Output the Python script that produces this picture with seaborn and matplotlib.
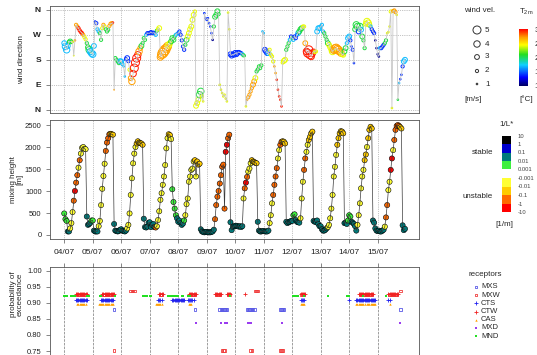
import numpy as np
import pandas as pd
import matplotlib
matplotlib.use("Agg")
import matplotlib.pyplot as plt
import matplotlib.cm as cm
from matplotlib.colors import LinearSegmentedColormap, ListedColormap, BoundaryNorm, Normalize
import seaborn as sns

sns.set_style("ticks")
plt.rcParams['font.family'] = ['Liberation Sans', 'DejaVu Sans']

# ---------------- data ----------------
day_labels = ["04/07", "05/07", "06/07", "07/07", "08/07", "09/07",
              "10/07", "11/07", "12/07", "13/07", "14/07", "15/07"]
first_day = 4  # 04 July, hourly data

# wind direction [deg], one row per day (hours 0-23)
wind_dir = [
    240, 228, 216, 230, 245, 246, 245, 244, 195, 250, 306, 300, 294, 286, 280, 276, 270, 262, 254, 240, 225, 216, 210, 204,
    200, 230, 318, 312, 290, 282, 276, 252, 294, 306, 300, 290, 282, 288, 302, 310, 312, 314, 72, 186, 180, 174, 168, 175,
    174, 165, 156, 120, 182, 186, 175, 144, 114, 102, 130, 150, 170, 186, 198, 210, 222, 230, 240, 258, 252, 270, 276, 276,
    276, 280, 276, 278, 276, 270, 285, 290, 294, 190, 198, 204, 210, 216, 222, 228, 234, 240, 246, 258, 252, 264, 270, 276,
    276, 282, 270, 250, 228, 216, 234, 252, 264, 276, 290, 300, 324, 342, 354, 14, 24, 36, 54, 66, 48, 30, 348, 330,
    324, 330, 312, 300, 276, 252, 300, 335, 342, 355, 345, 90, 72, 60, 48, 54, 40, 30, 350, 290, 200, 195, 200, 198,
    205, 200, 205, 208, 206, 204, 200, 196, 194, 12, 36, 45, 54, 66, 78, 90, 102, 114, 138, 145, 156, 150, 160, 282,
    276, 216, 210, 204, 204, 216, 198, 192, 174, 156, 132, 108, 72, 48, 36, 12, 170, 176, 180, 216, 228, 240, 252, 264,
    258, 252, 264, 258, 270, 276, 282, 290, 294, 300, 300, 240, 210, 204, 216, 198, 192, 204, 210, 208, 210, 282, 294, 294,
    300, 306, 282, 276, 264, 252, 240, 234, 225, 216, 210, 214, 220, 222, 218, 214, 210, 204, 200, 198, 210, 222, 240, 258,
    264, 250, 228, 216, 168, 290, 306, 300, 282, 300, 288, 264, 250, 222, 310, 318, 312, 306, 300, 290, 282, 276, 250, 222,
    200, 192, 222, 222, 228, 234, 240, 250, 276, 280, 300, 354, 6, 356, 358, 352, 342, 36, 96, 110, 126, 156, 174, 180,
]
# wind velocity [m/s]
wind_speed = [
    3, 4, 4, 3, 2, 3, 2, 1, 0.5, 1, 2, 2, 2, 2, 2, 2, 2, 2, 2, 2, 3, 4, 4, 4,
    4, 3, 1, 2, 2, 2, 2, 2, 2, 2, 2, 2, 2, 2, 2, 2, 2, 1, 0.5, 2, 2, 2, 2, 3,
    3, 2, 1, 1, 2, 3, 2, 2, 3, 4, 4, 5, 5, 5, 4, 4, 3, 3, 2, 2, 2, 2, 2, 2,
    2, 2, 2, 2, 2, 2, 2, 2, 3, 4, 5, 6, 6, 6, 5, 5, 4, 3, 3, 3, 3, 2, 2, 1,
    2, 2, 2, 2, 2, 2, 2, 3, 3, 3, 3, 3, 3, 3, 2, 3, 3, 3, 4, 4, 2, 1, 1, 1,
    1, 1, 1, 1, 1, 1, 2, 3, 3, 3, 2, 1, 1, 1, 1, 1, 1, 1, 1, 1, 3, 3, 3, 3,
    3, 3, 3, 2, 2, 2, 2, 2, 1, 1, 1, 2, 2, 2, 2, 3, 3, 3, 2, 2, 2, 2, 2, 1,
    1, 3, 3, 3, 3, 2, 2, 2, 2, 1, 1, 1, 1, 1, 1, 1, 2, 3, 3, 2, 2, 2, 2, 2,
    2, 2, 2, 2, 2, 3, 3, 3, 3, 2, 2, 3, 4, 5, 5, 5, 4, 4, 3, 2, 2, 3, 3, 3,
    2, 2, 2, 2, 2, 2, 3, 3, 3, 3, 4, 4, 5, 5, 5, 5, 4, 4, 3, 3, 3, 3, 2, 3,
    3, 2, 1, 2, 1, 3, 4, 4, 3, 4, 3, 3, 2, 2, 3, 4, 4, 3, 2, 2, 2, 2, 1, 1,
    1, 1, 2, 2, 2, 2, 2, 2, 1, 1, 1, 2, 1, 2, 2, 2, 1, 1, 1, 1, 1, 2, 3, 3,
]
# 2 m temperature [deg C]
temp_2m = [
    17, 17, 17, 17, 20.5, 20.5, 20.5, 24, 24, 27, 27, 27, 29.5, 29.5, 29.5, 29.5, 27, 24, 24, 20.5, 20.5, 20.5, 17, 17,
    17, 17, 14, 14, 17, 17, 20.5, 20.5, 24, 27, 24, 20.5, 20.5, 20.5, 27, 27, 27, 29.5, 27, 20.5, 20.5, 20.5, 20.5, 17,
    17, 17, 17, 17, 14, 14, 14, 24, 27, 27, 29.5, 29.5, 29.5, 29.5, 29.5, 27, 27, 20.5, 20.5, 20.5, 20.5, 17, 14, 14,
    14, 14, 14, 14, 14, 17, 20.5, 24, 24, 27, 27, 27, 27, 27, 27, 27, 24, 24, 20.5, 20.5, 20.5, 20.5, 17, 14,
    17, 14, 14, 14, 14, 14, 20.5, 20.5, 24, 24, 24, 24, 24, 24, 24, 24, 24, 24, 20.5, 20.5, 24, 24, 14, 14,
    14, 14, 14, 14, 14, 11, 20.5, 20.5, 20.5, 20.5, 20.5, 24, 24, 24, 24, 24, 24, 24, 24, 24, 14, 14, 14, 14,
    14, 14, 14, 14, 14, 14, 17, 20.5, 20.5, 24, 27, 27, 27, 27, 27, 27, 27, 24, 20.5, 20.5, 20.5, 20.5, 20.5, 17,
    17, 14, 14, 14, 17, 24, 24, 24, 24, 27, 27, 29.5, 29.5, 29.5, 29.5, 29.5, 24, 24, 24, 20.5, 20.5, 20.5, 17, 14,
    20.5, 17, 14, 14, 14, 17, 20.5, 20.5, 20.5, 24, 24, 27, 29.5, 29.5, 29.5, 29.5, 29.5, 29.5, 29.5, 24, 24, 17, 17, 17,
    17, 17, 17, 20.5, 20.5, 20.5, 20.5, 24, 24, 24, 24, 27, 27, 27, 27, 27, 27, 27, 24, 24, 20.5, 20.5, 17, 17,
    17, 14, 14, 14, 14, 20.5, 20.5, 20.5, 14, 20.5, 17, 20.5, 20.5, 20.5, 24, 24, 24, 24, 17, 14, 14, 14, 11, 11,
    11, 11, 17, 14, 14, 14, 20.5, 20.5, 24, 24, 24, 24, 24, 27, 27, 27, 24, 20.5, 17, 14, 14, 14, 17, 17,
]
# mixing height [m]
mix_height = [
    490, 360, 320, 80, 80, 150, 270, 520, 780, 1000, 1190, 1360, 1530, 1700, 1850, 1980, 2000, 1960, 1950, 420, 230, 250, 280, 330,
    330, 100, 80, 80, 80, 200, 320, 680, 1050, 1340, 1620, 1910, 2100, 2200, 2290, 2300, 2290, 2280, 250, 100, 90, 80, 90, 120,
    130, 100, 90, 80, 100, 150, 230, 490, 910, 1290, 1630, 1850, 2000, 2080, 2130, 2100, 2090, 2080, 2050, 370, 180, 170, 190, 280,
    290, 180, 230, 250, 180, 170, 200, 340, 540, 800, 950, 1140, 1330, 1590, 1970, 2200, 2290, 2270, 2180, 1040, 750, 600, 450, 380,
    300, 330, 270, 230, 260, 330, 450, 700, 830, 1210, 1330, 1480, 1510, 1670, 1700, 1330, 1670, 1600, 1620, 130, 80, 70, 60, 70,
    70, 60, 60, 60, 70, 80, 120, 360, 680, 870, 1000, 1170, 1360, 1550, 1600, 600, 1890, 2050, 2200, 2280, 290, 110, 190, 200,
    200, 210, 200, 190, 200, 180, 200, 830, 1060, 1190, 1320, 1440, 1510, 1630, 1700, 1670, 1660, 1640, 1630, 300, 100, 80, 80, 90,
    90, 80, 80, 80, 100, 270, 450, 720, 910, 1140, 1330, 1520, 1740, 1930, 2050, 2120, 2130, 2120, 2080, 300, 270, 290, 300, 320,
    320, 450, 470, 340, 300, 290, 280, 380, 830, 1210, 1480, 1740, 1890, 2050, 2160, 2230, 2310, 2350, 320, 300, 300, 330, 250, 200,
    200, 130, 100, 100, 120, 150, 180, 230, 380, 600, 910, 1330, 1550, 1820, 2050, 2200, 2310, 2360, 2350, 2310, 270, 280, 250, 330,
    450, 420, 300, 280, 250, 200, 100, 230, 450, 720, 1060, 1330, 1480, 1700, 1830, 2000, 2200, 2390, 2460, 2420, 330, 280, 150, 100,
    90, 100, 80, 80, 100, 120, 190, 400, 680, 1020, 1210, 1480, 1740, 1930, 2160, 2390, 2480, 2500, 2480, 2450, 2420, 220, 110, 140,
]
# stability class of 1/L*: K B T G (stable) / Y D O R (unstable)
stab_class = list(
    "GGGTTYYYOROOYOYYYYYTTTTG"
    + "GTTTTYYYYYYOOOODDDTTTTTT"
    + "TTTTTYYYYYYYYDDDDDDTTTTT"
    + "TTTTTOYYYYYYYYYYDDYGGGGT"
    + "TTTTTGYYYYYYYYDYDDDTTTTT"
    + "TTTTTTTOOOOOOOOORROOTTTT"
    + "TTTTTTTYOROYYYDDDDDTTTTT"
    + "TTTTTYYYOOOOYYOODDDTTTTT"
    + "TGGTTTTYYYOOYYDDDDTTTTTT"
    + "TTTTTTYYYYYYYYDDDDDDTTTG"
    + "GGTTTTTYYYYYYDDYDDDDTTTT"
    + "TTTTTTYOOYYRRYOOOOODDTTT"
)

stab_colors = {"K": "#000000", "B": "#0000cc", "T": "#007b7b", "G": "#3ef03e",
               "Y": "#ffff33", "D": "#ffcc00", "O": "#ff6a00", "R": "#ff0000"}
stab_stable = ["G", "T", "B", "K"]
stab_unstable = ["R", "O", "D", "Y"]
stable_labels = ["0.001", "0.01", "0.1", "1", "10"]
unstable_labels = ["-10", "-1", "-0.1", "-0.01", "-0.001"]

# receptors: probability of exceedance (level, hours since 04/07 00:00)
rec_names = ["MXS", "MXW", "CTS", "CTW", "CAS", "MXD", "MND"]
MXS_levels = [0.909, 0.880]
MXS_hours = [[11, 12, 13, 14, 15, 16, 17, 18, 32, 33, 34, 35, 36, 37, 38, 39, 40,
              92, 93, 94, 95, 96, 97, 98, 99, 100, 247, 248, 249, 250, 251, 252, 253,
              254, 255, 256, 257, 258, 259, 260, 261],
             [42, 110, 131, 132, 133, 134, 135, 136, 137, 154, 155, 156, 157, 158, 159, 160,
              182, 183, 184, 185, 283]]
MXW_levels = [0.926, 0.9375, 0.752]
MXW_hours = [[11, 12, 13, 14, 15, 16, 17, 18, 33, 34, 35, 36, 37, 38, 39, 40, 41, 81, 82,
              106, 107, 108, 109, 110, 128, 129, 130, 131, 138, 139, 200, 201, 202,
              249, 250, 251, 252, 253, 254, 255, 256, 257, 258, 259, 274, 275, 276, 277, 278, 279, 280],
             [56, 57, 58, 59, 161, 162, 163, 283],
             [42, 133, 134, 135, 157, 158, 182, 183, 184]]
CTS_levels = [0.909]
CTS_hours = [[10, 11, 12, 13, 14, 15, 16, 17, 18, 19, 31, 32, 33, 34, 35, 36, 37, 38, 39, 40, 41,
              79, 80, 81, 82, 91, 92, 93, 94, 95, 96, 97, 98, 99, 100, 101,
              104, 105, 106, 107, 108, 109, 199, 200, 201, 202, 240,
              246, 247, 248, 249, 250, 251, 252, 253, 254, 255, 256, 257, 258, 259, 260, 261, 262, 273, 274]]
CTW_levels = [0.927]
CTW_hours = [[10, 11, 12, 13, 14, 15, 16, 17, 18, 19, 32, 33, 34, 35, 36, 37, 38, 39, 40, 41, 42,
              80, 81, 82, 83, 105, 106, 107, 108, 109, 110, 111, 127, 128, 129, 130, 131, 132,
              137, 138, 139, 140, 152, 199, 200, 201, 202, 203,
              248, 249, 250, 251, 252, 253, 254, 255, 256, 257, 258, 259, 260,
              273, 274, 275, 276, 277, 278, 279, 280, 281]]
CAS_levels = [0.896]
CAS_hours = [[11, 12, 13, 14, 15, 16, 17, 18, 29, 30, 31, 32, 33, 34, 35, 36, 37, 38, 39, 40, 41,
              77, 78, 79, 80, 81, 82, 105, 106, 107, 199, 200, 201, 202,
              246, 247, 248, 249, 250, 251, 252, 253, 255, 256, 257, 258, 259, 260, 261, 262, 274]]
MXD_levels = [0.838]
MXD_hours = [[111, 132, 135, 136, 137, 155, 156, 157, 183, 283]]
MND_levels = [0.923]
MND_hours = [[0, 1, 2, 6, 7, 8, 9, 19, 20, 21, 30, 31, 43, 66, 67, 68, 69, 70, 72, 73,
              87, 88, 89, 90, 91, 92, 93, 94, 95, 96, 99, 100, 104, 105, 106, 140,
              193, 194, 195, 196, 197, 202, 222, 238, 239, 240, 252, 271]]

rec_data = {"MXS": (MXS_levels, MXS_hours), "MXW": (MXW_levels, MXW_hours),
            "CTS": (CTS_levels, CTS_hours), "CTW": (CTW_levels, CTW_hours),
            "CAS": (CAS_levels, CAS_hours), "MXD": (MXD_levels, MXD_hours),
            "MND": (MND_levels, MND_hours)}
rec_style = {
    "MXS": dict(marker="s", color="#5a5ae6", filled=False, s=3.5),
    "MXW": dict(marker="s", color="#f03c3c", filled=False, s=3.5),
    "CTS": dict(marker="+", color="#2020f0", filled=None, s=5),
    "CTW": dict(marker="+", color="#f02020", filled=None, s=5),
    "CAS": dict(marker="^", color="#ffa000", filled=True, s=3),
    "MXD": dict(marker="s", color="#9a3cf0", filled=True, s=3),
    "MND": dict(marker="s", color="#22e022", filled=True, s=3),
}

temp_cmap = LinearSegmentedColormap.from_list(
    "t2m", [(0.0, "#000060"), (0.15, "#0000ff"), (0.37, "#10d0ff"), (0.55, "#22dd22"),
            (0.72, "#ffff00"), (0.86, "#ff9900"), (1.0, "#ff0000")])

# ---------------- figure ----------------
W, H = 537, 355
fig = plt.figure(figsize=(W / 100, H / 100), dpi=100)


def ax_at(x0, y0, x1, y1):
    return fig.add_axes([x0 / W, 1 - y1 / H, (x1 - x0) / W, (y1 - y0) / H])


def ftext(x, y, s, **kw):
    kw.setdefault("fontsize", 5.8)
    kw.setdefault("va", "center")
    fig.text(x / W, 1 - y / H, s, **kw)


spine_col = "#555555"
t = first_day + np.arange(len(mix_height)) / 24.0
xlim = (3.5, 16.45)


def style_axes(ax):
    for sp in ax.spines.values():
        sp.set_color(spine_col)
        sp.set_linewidth(0.6)
    ax.tick_params(colors=spine_col, labelcolor="#222222", width=0.5, length=3,
                   labelsize=5.5, pad=2)
    ax.set_xlim(*xlim)
    ax.set_xticks(range(first_day, first_day + len(day_labels)))


# --- top: wind direction ---
ax1 = ax_at(50, 6, 419, 113)
df1 = pd.DataFrame({"t": t, "dir": wind_dir, "spd": wind_speed, "temp": temp_2m})
df1["spd2"] = df1["spd"] ** 2
sns.lineplot(data=df1, x="t", y="dir", sort=False, estimator=None, color="#c8c8c8",
             lw=0.6, ax=ax1)
sns.scatterplot(data=df1, x="t", y="dir", hue="temp", palette=temp_cmap, hue_norm=(10, 30),
                size="spd2", sizes=(0, 48), size_norm=(0, 36), legend=False, ax=ax1)
coll = ax1.collections[-1]
fc = coll.get_facecolors()
coll.set_facecolors("none")
coll.set_edgecolors(fc)
coll.set_linewidths(0.7)
style_axes(ax1)
ax1.set_ylim(-12, 374)
ax1.set_yticks([0, 90, 180, 270, 360])
ax1.set_yticklabels(["N", "E", "S", "W", "N"], fontweight="bold", fontsize=6)
ax1.tick_params(axis="x", bottom=False, labelbottom=False)
ax1.tick_params(axis="y", pad=3.5)
ax1.grid(True, ls=":", color="#8a8a8a", lw=0.5)
ax1.set_xlabel("")
ax1.set_ylabel("wind direction", fontsize=5.8)
ax1.yaxis.set_label_coords(-0.068, 0.5)

# --- middle: mixing height ---
ax2 = ax_at(50, 120, 419, 239)
sns.lineplot(x=t, y=mix_height, sort=False, estimator=None, color="#3a3a3a", lw=0.5, ax=ax2)
sns.scatterplot(x=t, y=mix_height, hue=stab_class, palette=stab_colors, s=14,
                edgecolor="black", linewidth=0.4, legend=False, ax=ax2)
style_axes(ax2)
ax2.set_ylim(-91, 2614)
ax2.set_yticks([0, 500, 1000, 1500, 2000, 2500])
ax2.set_xticklabels(day_labels)
ax2.tick_params(axis="x", labelsize=6, pad=4)
ax2.tick_params(axis="y", pad=3)
ax2.grid(True, axis="x", ls=":", color="#8a8a8a", lw=0.5)
ax2.set_ylabel("mixing height\n[m]", fontsize=5.8, linespacing=0.95)
ax2.yaxis.set_label_coords(-0.072, 0.5)

# --- bottom: probability of exceedance ---
ax3 = ax_at(50, 267, 419, 365)
for name in rec_names:
    levels, hours = rec_data[name]
    st = rec_style[name]
    xs, ys = [], []
    for lev, hrs in zip(levels, hours):
        xs += [first_day + h / 24.0 for h in hrs]
        ys += [lev] * len(hrs)
    kw = dict(marker=st["marker"], s=st["s"], legend=False, ax=ax3)
    if st["filled"] is None:
        sns.scatterplot(x=xs, y=ys, color=st["color"], linewidth=0.6, **kw)
    elif st["filled"]:
        sns.scatterplot(x=xs, y=ys, color=st["color"], linewidth=0, **kw)
    else:
        sns.scatterplot(x=xs, y=ys, color="none", edgecolor=st["color"], linewidth=0.6, **kw)
style_axes(ax3)
ax3.set_ylim(0.70625, 1.0125)
ax3.set_yticks([0.75, 0.80, 0.85, 0.90, 0.95, 1.00])
ax3.set_yticklabels(["0.75", "0.80", "0.85", "0.90", "0.95", "1.00"])
ax3.tick_params(axis="x", bottom=False, labelbottom=False, top=True, labeltop=False)
ax3.tick_params(axis="y", pad=3)
ax3.spines["bottom"].set_visible(False)
ax3.grid(True, axis="x", ls="--", color="#777777", lw=0.5)
ax3.set_ylabel("probability of\nexceedance", fontsize=5.8, linespacing=0.95)
ax3.yaxis.set_label_coords(-0.072, 0.72)

# --- wind velocity legend ---
axw = ax_at(455, 20, 505, 95)
axw.set_xlim(455, 505)
axw.set_ylim(95, 20)
axw.axis("off")
leg_speeds = [5, 4, 3, 2, 1]
leg_y = [30, 44, 57, 71, 84]
axw.scatter([477] * 5, leg_y, s=[48 / 36 * v * v for v in leg_speeds],
            facecolors="none", edgecolors="#333333", linewidths=0.7)
for v, y in zip(leg_speeds, leg_y):
    axw.text(485, y, str(v), va="center", fontsize=5.8)
ftext(464, 11, "wind vel.")
ftext(464, 99, "[m/s]")

# --- temperature colorbar ---
cax_t = ax_at(519, 29, 528, 86)
cb = fig.colorbar(cm.ScalarMappable(norm=Normalize(10, 30), cmap=temp_cmap), cax=cax_t,
                  ticks=[10, 15, 20, 25, 30])
cb.outline.set_visible(False)
cax_t.tick_params(labelsize=5.8, length=0, pad=4.5)
ftext(519, 12, r"$\mathregular{T_{2m}}$")
ftext(519, 99, "[°C]")

# --- stability legend ---
cax_s = ax_at(502, 136, 511, 169)
cbs = fig.colorbar(cm.ScalarMappable(norm=BoundaryNorm([0, 1, 2, 3, 4], 4),
                                     cmap=ListedColormap([stab_colors[c] for c in stab_stable])),
                   cax=cax_s, ticks=[0, 1, 2, 3, 4])
cbs.set_ticklabels(stable_labels)
cax_u = ax_at(502, 178, 511, 212)
cbu = fig.colorbar(cm.ScalarMappable(norm=BoundaryNorm([0, 1, 2, 3, 4], 4),
                                     cmap=ListedColormap([stab_colors[c] for c in stab_unstable])),
                   cax=cax_u, ticks=[0, 1, 2, 3, 4])
cbu.set_ticklabels(unstable_labels)
for c in (cbs, cbu):
    c.outline.set_visible(False)
    c.ax.tick_params(labelsize=4.2, length=0, pad=5, labelcolor="#444444")
ftext(507, 125, "1/L*", ha="center")
ftext(493, 153, "stable", ha="right")
ftext(493, 197, "unstable", ha="right")
ftext(495, 224, "[1/m]")

# --- receptors legend ---
axr = ax_at(460, 268, 537, 345)
axr.set_xlim(460, 537)
axr.set_ylim(345, 268)
axr.axis("off")
for k, name in enumerate(rec_names):
    st = rec_style[name]
    y = 287 + 8.17 * k
    if st["filled"] is None:
        axr.scatter([476], [y], marker=st["marker"], s=st["s"], color=st["color"], linewidths=0.6)
    elif st["filled"]:
        axr.scatter([476], [y], marker=st["marker"], s=st["s"], color=st["color"], linewidths=0)
    else:
        axr.scatter([476], [y], marker=st["marker"], s=st["s"], facecolors="none",
                    edgecolors=st["color"], linewidths=0.6)
    axr.text(481, y, name, va="center", fontsize=5.5)
ftext(485, 274, "receptors", ha="center")

fig.savefig("out.png", dpi=100)
